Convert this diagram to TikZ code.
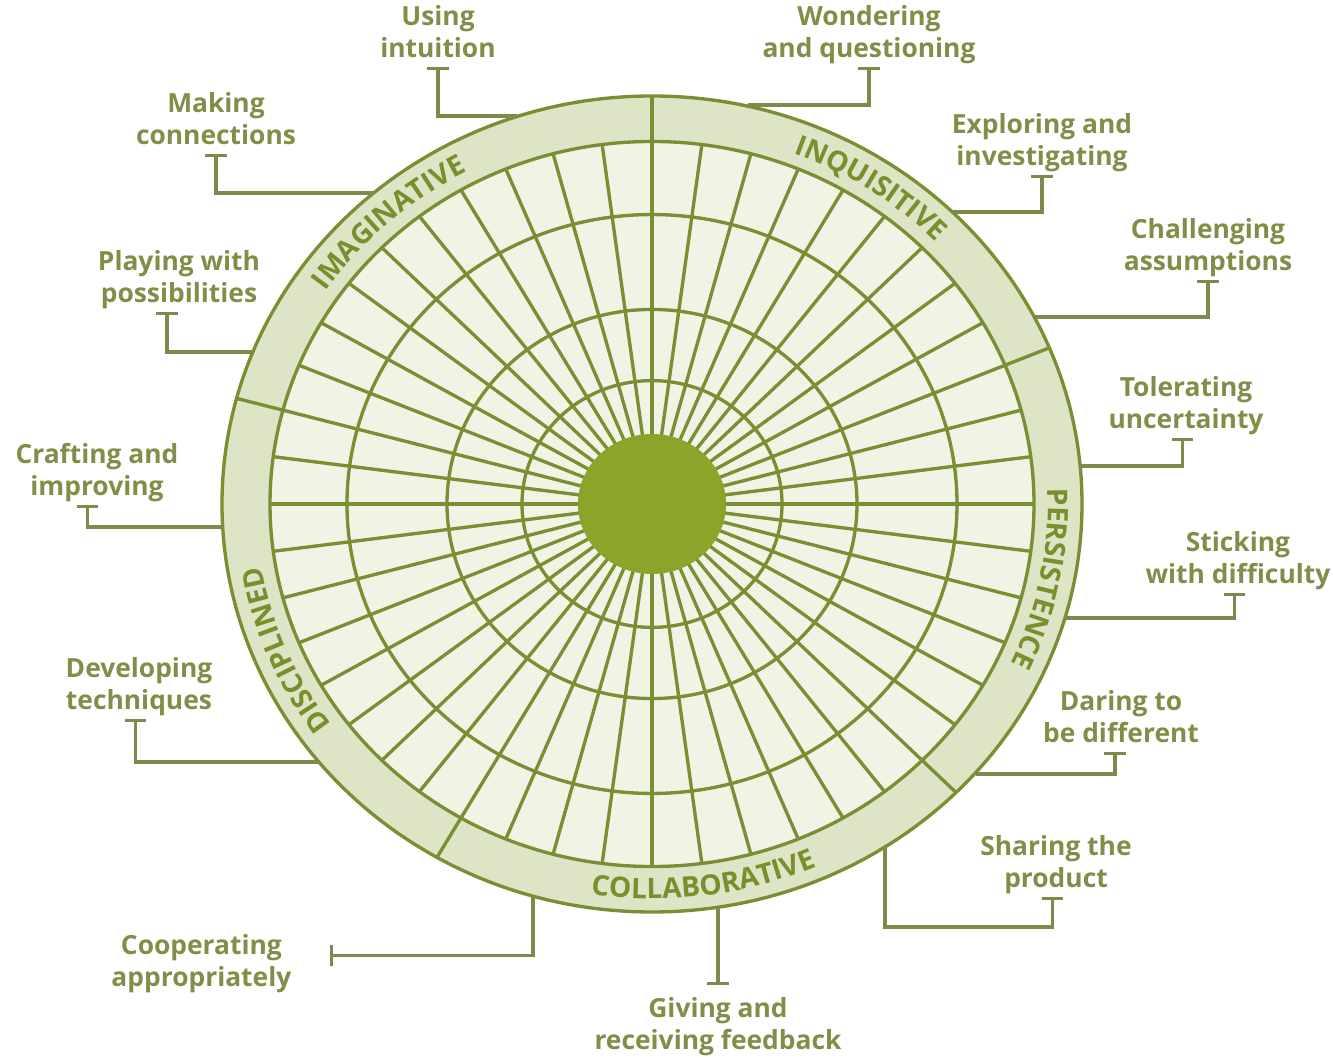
\documentclass[tikz,border=0pt]{standalone}
\usepackage{fontspec}
\setmainfont{Open Sans}
\usetikzlibrary{arrows.meta,decorations.text}
\definecolor{wline}{RGB}{122,142,52}
\definecolor{wdisc}{RGB}{139,164,42}
\definecolor{wband}{RGB}{222,228,198}
\definecolor{wfill}{RGB}{241,244,228}
\definecolor{wconn}{RGB}{124,138,78}
\definecolor{wtext}{RGB}{128,143,72}
\definecolor{wbandtxt}{RGB}{122,142,45}
\newcommand\bandfont{\fontsize{8}{9}\selectfont\bfseries}
\begin{document}
\begin{tikzpicture}[x=0.01cm,y=0.01cm,line cap=butt,line join=miter,font=\fontsize{7.5}{9.1}\selectfont\bfseries]
	\tikzset{grid/.style={draw=wline,line width=0.95pt},
		conn/.style={draw=wconn,line width=0.9pt,{Bar[width=6pt]}-},
		lbl/.style={text=wtext,align=center,inner sep=0pt,outer sep=0pt,
			execute at begin node=\strut,execute at end node={\vrule width 0pt height 0pt depth 2.2pt}}}
	\useasboundingbox (0,0) rectangle (1333,1057);
	\def\bandlabel#1#2#3#4{\path[decorate,decoration={text along path,text align=center,
			text color=wbandtxt,text={|\bandfont|#4}}]
		(#1:#3 and {0.949*#3}) arc[start angle=#1,end angle=#2,x radius=#3,y radius={0.949*#3}];}
	%--------- Wheel
	\begin{scope}[shift={(652,553)}]
		\fill[wband] (0,0) ellipse [x radius=430,y radius=408];
		\fill[wfill] (0,0) ellipse [x radius=382,y radius=362.5];
		\foreach \a in {0,7.5,...,352.5}
			\draw[grid] (\a:73 and 69.3) -- (\a:382 and 362.5);
		\foreach \r in {130,205,305,382}
			\draw[grid] (0,0) ellipse [x radius=\r,y radius={0.949*\r}];
		\fill[wdisc] (0,0) ellipse [x radius=74,y radius=70];
		\draw[grid] (0,0) ellipse [x radius=430,y radius=408];
		\foreach \a in {90,22.5,-45,-120,165}
			\draw[grid] (\a:382 and 362.5) -- (\a:430 and 408);
		%--------- Band names
		\bandlabel{164}{100}{396}{IMAGINATIVE}
		\bandlabel{88.25}{24.25}{396}{INQUISITIVE}
		\bandlabel{20.75}{-43.25}{396}{PERSISTENCE}
		\bandlabel{-114.5}{-50.5}{416}{COLLABORATIVE}
		\bandlabel{234.5}{170.5}{396}{DISCIPLINED}
	\end{scope}
	%--------- Labels
	\node[lbl,anchor=south] (intuit) at (438,990) {Using\\intuition};
	\node[lbl,anchor=south] (wonder) at (869,990) {Wondering\\and questioning};
	\node[lbl,anchor=south] (connect) at (216,903) {Making\\connections};
	\node[lbl,anchor=south] (explore) at (1042,882) {Exploring and\\investigating};
	\node[lbl,anchor=south] (challenge) at (1208,777) {Challenging\\assumptions};
	\node[lbl,anchor=south] (playing) at (179,745) {Playing with\\possibilities};
	\node[lbl,anchor=south] (tolerate) at (1186,619) {Tolerating\\uncertainty};
	\node[lbl,anchor=south] (crafting) at (97,552) {Crafting and\\improving};
	\node[lbl,anchor=south] (sticking) at (1238,464) {Sticking\\with difficulty};
	\node[lbl,anchor=south] (develop) at (139,338) {Developing\\techniques};
	\node[lbl,anchor=south] (daring) at (1121,305) {Daring to\\be different};
	\node[lbl,anchor=south] (sharing) at (1056,160) {Sharing the\\product};
	\node[lbl,anchor=east,outer xsep=11pt] (cooperate) at (330,92) {Cooperating\\appropriately};
	\node[lbl,anchor=north,outer ysep=3.6pt] (feedback) at (718,72) {Giving and\\receiving feedback};
	%--------- Points on the rim
	\coordinate (c-intuit) at (517,941);
	\coordinate (c-wonder) at (748,952);
	\coordinate (c-connect) at (373,864);
	\coordinate (c-explore) at (952,845);
	\coordinate (c-challenge) at (1035,740);
	\coordinate (c-playing) at (253,705);
	\coordinate (c-tolerate) at (1080,591);
	\coordinate (c-crafting) at (223,530);
	\coordinate (c-sticking) at (1065,439);
	\coordinate (c-develop) at (318,295);
	\coordinate (c-daring) at (976,283);
	\coordinate (c-sharing) at (885,210);
	\coordinate (c-cooperate) at (533,160);
	\coordinate (c-feedback) at (718,149);
	%--------- Connectors
	\draw[conn] (intuit.south) |- (c-intuit);
	\draw[conn] (wonder.south) |- (c-wonder);
	\draw[conn] (connect.south) |- (c-connect);
	\draw[conn] (explore.south) |- (c-explore);
	\draw[conn] (challenge.south) |- (c-challenge);
	\draw[conn] ([xshift=-3.4pt]playing.south) |- (c-playing);
	\draw[conn] ([xshift=-1.1pt]tolerate.south) |- (c-tolerate);
	\draw[conn] ([xshift=-2.8pt]crafting.south) |- (c-crafting);
	\draw[conn] ([xshift=-1.1pt]sticking.south) |- (c-sticking);
	\draw[conn] ([xshift=-1.1pt]develop.south) |- (c-develop);
	\draw[conn] ([xshift=-1.7pt]daring.south) |- (c-daring);
	\draw[conn] ([xshift=-1.1pt]sharing.south) -- ++(0,-30) -| (c-sharing);
	\draw[conn] ([yshift=2.6pt]cooperate.east) -| (c-cooperate);
	\draw[conn] (feedback.north) -- (c-feedback);
\end{tikzpicture}
\end{document}
